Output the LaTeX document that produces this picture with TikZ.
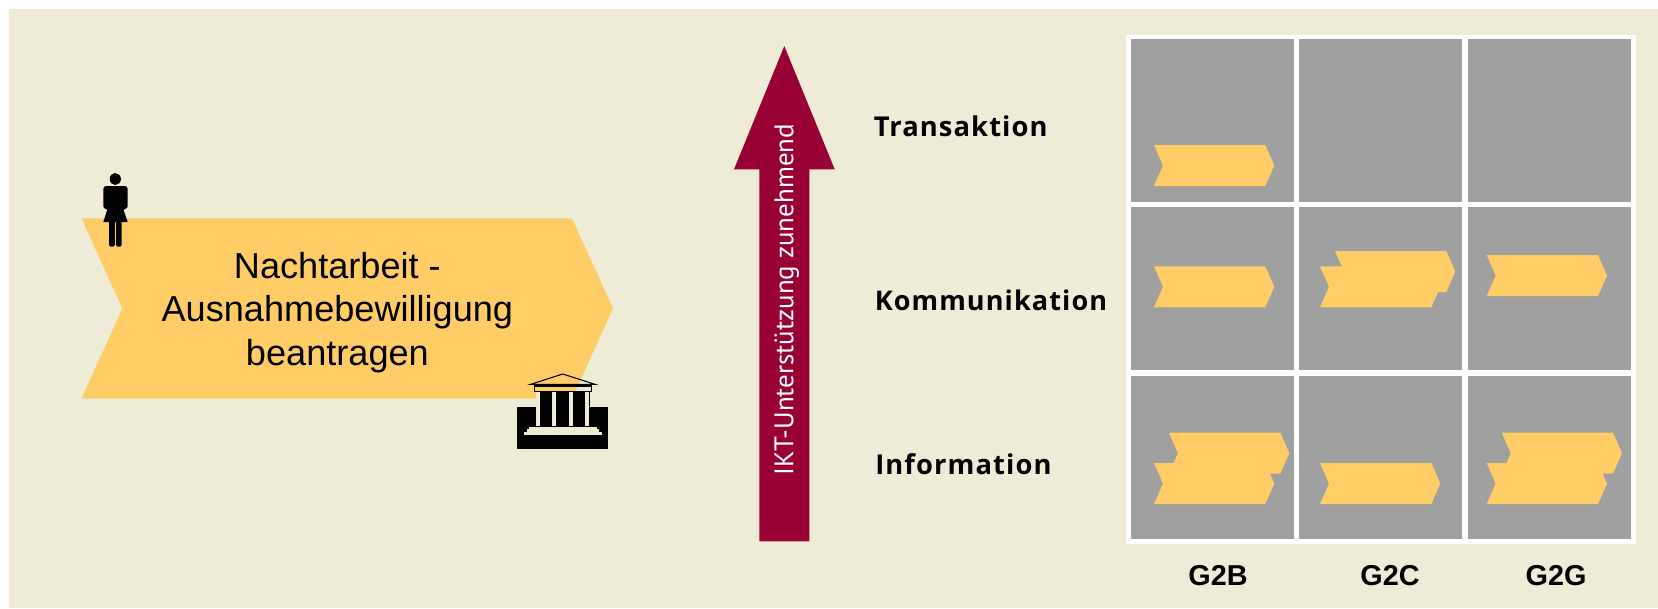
\documentclass[tikz,border=0pt]{standalone}
\usepackage{fontspec}
\setmainfont{Liberation Sans}
\newfontfamily\labelfont[LetterSpace=4]{Open Sans}
\newfontfamily\arrowfont{PT Sans}
\definecolor{bgcream}{HTML}{EEEBD7}
\definecolor{chevorange}{HTML}{FFCC66}
\definecolor{cellgray}{HTML}{A0A0A0}
\definecolor{arrowred}{HTML}{990033}
\newcommand{\chev}[2]{%
  \fill[chevorange] (#1,#2) -- ++(111.3,0) -- ++(9,20.5) -- ++(-9,20.5) -- ++(-111.3,0) -- ++(9,-20.5) -- cycle;}
\newcommand{\cell}[2]{\fill[cellgray] (#1,#2) rectangle ++(163.2,163);}
\begin{document}
\begin{tikzpicture}[x=0.75pt,y=-0.75pt,
  maintext/.style={anchor=base,inner sep=0,font=\fontsize{27.1}{32}\selectfont},
  rowlabel/.style={anchor=base west,inner sep=0,font=\labelfont\fontsize{20.5}{24}\selectfont\bfseries},
  collabel/.style={anchor=base,inner sep=0,font=\fontsize{21.6}{26}\selectfont\bfseries}]
\useasboundingbox (0,0) rectangle (1658,608);
\fill[white] (0,0) rectangle (1658,608);
\fill[bgcream] (8.5,9) rectangle (1658,608);
% big chevron
\fill[chevorange] (81.5,218.3) -- (572,218.3) -- (613,308.5) -- (572,398.6) -- (81.5,398.6) -- (122.3,308.5) -- cycle;
\node[maintext] (t1) at (337.4,278.3) {Nachtarbeit -};
\node[maintext] (t2) at (337.4,321.7) {Ausnahmebewilligung};
\node[maintext] (t3) at (337.4,365) {beantragen};
% person
\fill[black] (115.3,179) ellipse [x radius=5.6,y radius=6];
\fill[black,rounded corners=2.2pt] (103.3,209) -- (103.3,186) -- (127.7,186) -- (127.7,209) -- (122.5,209) -- (122.5,212) -- (108.5,212) -- (108.5,209) -- cycle;
\fill[black] (108.8,205) -- (121.8,205) -- (127.7,222) -- (103.3,222) -- cycle;
\fill[black,rounded corners=1.2pt] (109,220) -- (114.8,220) -- (114.8,246.7) -- (109,246.7) -- cycle;
\fill[black,rounded corners=1.2pt] (116,220) -- (121.7,220) -- (121.7,246.7) -- (116,246.7) -- cycle;
% building
\fill[black] (517.3,407.3) rectangle (608.3,449.3);
\fill[black] (536,391) rectangle (590,426);
\draw[black,line width=0.8pt] (530.7,384.3) -- (562.7,374) -- (595,384.3) -- cycle;
\draw[black,line width=1pt] (534.3,386) rectangle (591.3,391.7);
\foreach \cx in {536,552.3,569,585.3} \fill[bgcream] (\cx,392) rectangle ++(4,33.5);
\fill[bgcream] (529.3,426.7) rectangle (596.7,429.3);
\fill[bgcream] (526.7,429.3) rectangle (599,432.3);
\fill[bgcream] (524,432.3) rectangle (601.7,434.7);
% arrow
\fill[arrowred] (784.3,46) -- (834.7,169.3) -- (809.3,169.3) -- (809.3,541.4) -- (759.3,541.4) -- (759.3,169.3) -- (734,169.3) -- cycle;
\node[rotate=90,anchor=base,inner sep=0,text=white,font=\arrowfont\fontsize{20.2}{24}\selectfont] (arrowtext) at (793.3,299.7) {IKT-Unterstützung zunehmend};
% labels
\node[rowlabel] (trans) at (873.5,136) {Transaktion};
\node[rowlabel,font=\labelfont\fontsize{20.3}{24}\selectfont\bfseries] (komm) at (874.5,310) {Kommunikation};
\node[rowlabel] (info) at (875,474) {Information};
% grid
\fill[white] (1126,35) rectangle (1635.7,544);
\foreach \gx in {1131,1299,1467.5}
  \foreach \gy in {39.3,207.3,375.9} {\cell{\gx}{\gy}}
% chevrons
\chev{1154}{145}
\chev{1154}{266.3}
\chev{1335}{251}
\chev{1320}{266.3}
\chev{1486.7}{255}
\chev{1169}{432.7}
\chev{1154}{463}
\chev{1320}{463}
\chev{1501.7}{432.7}
\chev{1486.7}{463}
% columns
\node[collabel] (g2b) at (1218,585) {G2B};
\node[collabel] (g2c) at (1390,585) {G2C};
\node[collabel] (g2g) at (1556,585) {G2G};
\end{tikzpicture}
\end{document}
